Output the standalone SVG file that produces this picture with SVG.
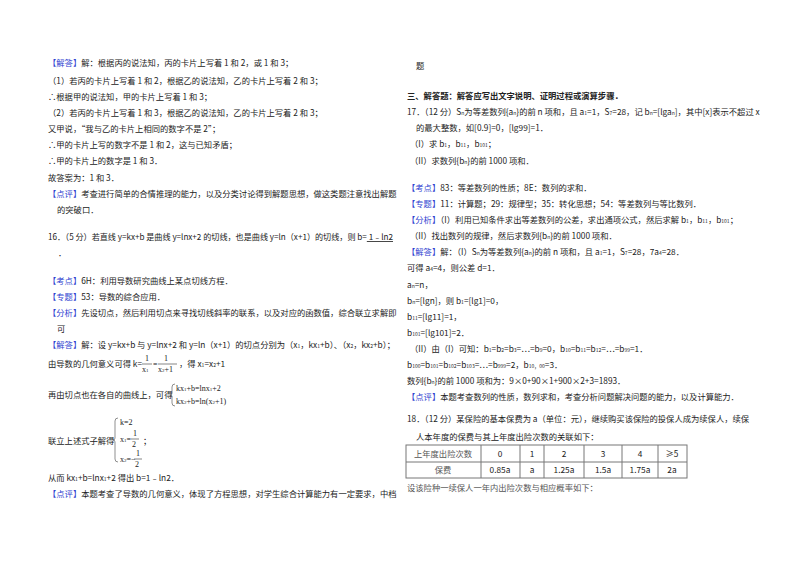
<svg xmlns="http://www.w3.org/2000/svg" width="800" height="565" viewBox="0 0 800 565">
<style>
text{font-family:"Noto Sans CJK SC","Liberation Sans",sans-serif;font-size:8.3px;fill:#222}
.b{fill:#2f3fd0}
.s{font-size:5px}
.h{font-weight:bold}
.m{font-family:"Liberation Serif",serif;font-size:8px}
.t{fill:none;stroke:#777;stroke-width:1}
</style>
<rect width="800" height="565" fill="#fff"/>
<g id="left">
<text x="48" y="66"><tspan class="b">【解答】</tspan>解：根据丙的说法知，丙的卡片上写着 1 和 2，或 1 和 3；</text>
<text x="48" y="84">（1）若丙的卡片上写着 1 和 2，根据乙的说法知，乙的卡片上写着 2 和 3；</text>
<text x="48" y="100">∴根据甲的说法知，甲的卡片上写着 1 和 3；</text>
<text x="48" y="116">（2）若丙的卡片上写着 1 和 3，根据乙的说法知，乙的卡片上写着 2 和 3；</text>
<text x="48" y="132">又甲说，“我与乙的卡片上相同的数字不是 2”；</text>
<text x="48" y="148">∴甲的卡片上写的数字不是 1 和 2，这与已知矛盾；</text>
<text x="48" y="164">∴甲的卡片上的数字是 1 和 3．</text>
<text x="48" y="181">故答案为：1 和 3．</text>
<text x="48" y="197"><tspan class="b">【点评】</tspan>考查进行简单的合情推理的能力，以及分类讨论得到解题思想，做这类题注意找出解题</text>
<text x="57" y="213">的突破口．</text>
<text x="48" y="240" textLength="345" lengthAdjust="spacingAndGlyphs">16．（5 分）若直线 y=kx+b 是曲线 y=lnx+2 的切线，也是曲线 y=ln（x+1）的切线，则 b=<tspan text-decoration="underline">  1﹣ln2</tspan></text>
<text x="58" y="256">．</text>
<text x="48" y="284"><tspan class="b">【考点】</tspan>6H：利用导数研究曲线上某点切线方程．</text>
<text x="48" y="300"><tspan class="b">【专题】</tspan>53：导数的综合应用．</text>
<text x="48" y="316"><tspan class="b">【分析】</tspan>先设切点，然后利用切点来寻找切线斜率的联系，以及对应的函数值，综合联立求解即</text>
<text x="57" y="332">可</text>
<text x="48" y="348"><tspan class="b">【解答】</tspan>解：设 y=kx+b 与 y=lnx+2 和 y=ln（x+1）的切点分别为（x<tspan class="s">1</tspan>，kx<tspan class="s">1</tspan>+b）、（x<tspan class="s">2</tspan>，kx<tspan class="s">2</tspan>+b）；</text>
<text x="48" y="367">由导数的几何意义可得 k=</text>
<text x="145" y="361" class="m">1</text>
<line x1="142" y1="364" x2="152" y2="364" stroke="#333" stroke-width="0.6"/>
<text x="142" y="372" class="m">x<tspan class="s">1</tspan></text>
<text x="153" y="367" class="m">=</text>
<text x="164" y="361" class="m">1</text>
<line x1="158" y1="364" x2="177" y2="364" stroke="#333" stroke-width="0.6"/>
<text x="158" y="372" class="m">x<tspan class="s">2</tspan>+1</text>
<text x="179" y="367">，得 x<tspan class="s">1</tspan>=x<tspan class="s">2</tspan>+1</text>
<text x="48" y="398">再由切点也在各自的曲线上，可得</text>
<path d="M175,384 q-3,0 -3,3 v6 q0,2 -2,2 q2,0 2,2 v6 q0,3 3,3" fill="none" stroke="#444" stroke-width="0.6"/>
<text x="176" y="391" class="m">kx<tspan class="s">1</tspan>+b=lnx<tspan class="s">1</tspan>+2</text>
<text x="176" y="404" class="m">kx<tspan class="s">2</tspan>+b=ln(x<tspan class="s">2</tspan>+1)</text>
<text x="48" y="444">联立上述式子解得</text>
<path d="M118,418 q-3,0 -3,3 v17 q0,2 -2,2 q2,0 2,2 v17 q0,3 3,3" fill="none" stroke="#444" stroke-width="0.6"/>
<text x="120" y="425" class="m">k=2</text>
<text x="120" y="442" class="m">x<tspan class="s">1</tspan>=</text>
<text x="133" y="436" class="m">1</text>
<line x1="131" y1="439" x2="139" y2="439" stroke="#333" stroke-width="0.6"/>
<text x="132" y="447" class="m">2</text>
<text x="143" y="444">；</text>
<text x="120" y="462" class="m">x<tspan class="s">2</tspan>=−</text>
<text x="136" y="456" class="m">1</text>
<line x1="134" y1="459" x2="142" y2="459" stroke="#333" stroke-width="0.6"/>
<text x="135" y="467" class="m">2</text>
<text x="48" y="481">从而 kx<tspan class="s">1</tspan>+b=lnx<tspan class="s">1</tspan>+2 得出 b=1﹣ln2．</text>
<text x="48" y="497"><tspan class="b">【点评】</tspan>本题考查了导数的几何意义，体现了方程思想，对学生综合计算能力有一定要求，中档</text>
</g>
<g id="right">
<text x="416" y="69">题</text>
<text x="407" y="99" class="h">三、解答题：解答应写出文字说明、证明过程或演算步骤．</text>
<text x="407" y="115">17．（12 分）S<tspan class="s">n</tspan>为等差数列{a<tspan class="s">n</tspan>}的前 n 项和，且 a<tspan class="s">1</tspan>=1，S<tspan class="s">7</tspan>=28，记 b<tspan class="s">n</tspan>=[lga<tspan class="s">n</tspan>]，其中[x]表示不超过 x</text>
<text x="416" y="131">的最大整数，如[0.9]=0，[lg99]=1．</text>
<text x="410" y="147">（I）求 b<tspan class="s">1</tspan>，b<tspan class="s">11</tspan>，b<tspan class="s">101</tspan>；</text>
<text x="410" y="164">（II）求数列{b<tspan class="s">n</tspan>}的前 1000 项和．</text>
<text x="407" y="191"><tspan class="b">【考点】</tspan>83：等差数列的性质；8E：数列的求和．</text>
<text x="407" y="207"><tspan class="b">【专题】</tspan>11：计算题；29：规律型；35：转化思想；54：等差数列与等比数列．</text>
<text x="407" y="223"><tspan class="b">【分析】</tspan>（I）利用已知条件求出等差数列的公差，求出通项公式，然后求解 b<tspan class="s">1</tspan>，b<tspan class="s">11</tspan>，b<tspan class="s">101</tspan>；</text>
<text x="410" y="239">（II）找出数列的规律，然后求数列{b<tspan class="s">n</tspan>}的前 1000 项和．</text>
<text x="407" y="255"><tspan class="b">【解答】</tspan>解：（I）S<tspan class="s">n</tspan>为等差数列{a<tspan class="s">n</tspan>}的前 n 项和，且 a<tspan class="s">1</tspan>=1，S<tspan class="s">7</tspan>=28，7a<tspan class="s">4</tspan>=28．</text>
<text x="407" y="271">可得 a<tspan class="s">4</tspan>=4，则公差 d=1．</text>
<text x="407" y="288">a<tspan class="s">n</tspan>=n，</text>
<text x="407" y="304">b<tspan class="s">n</tspan>=[lgn]，则 b<tspan class="s">1</tspan>=[lg1]=0，</text>
<text x="407" y="320">b<tspan class="s">11</tspan>=[lg11]=1，</text>
<text x="407" y="336">b<tspan class="s">101</tspan>=[lg101]=2．</text>
<text x="410" y="352">（II）由（I）可知：b<tspan class="s">1</tspan>=b<tspan class="s">2</tspan>=b<tspan class="s">3</tspan>=…=b<tspan class="s">9</tspan>=0，b<tspan class="s">10</tspan>=b<tspan class="s">11</tspan>=b<tspan class="s">12</tspan>=…=b<tspan class="s">99</tspan>=1．</text>
<text x="407" y="368">b<tspan class="s">100</tspan>=b<tspan class="s">101</tspan>=b<tspan class="s">102</tspan>=b<tspan class="s">103</tspan>=…=b<tspan class="s">999</tspan>=2，b<tspan class="s">10，00</tspan>=3．</text>
<text x="407" y="384">数列{b<tspan class="s">n</tspan>}的前 1000 项和为：9×0+90×1+900×2+3=1893．</text>
<text x="407" y="400"><tspan class="b">【点评】</tspan>本题考查数列的性质，数列求和，考查分析问题解决问题的能力，以及计算能力．</text>
<text x="407" y="422">18．（12 分）某保险的基本保费为 a（单位：元），继续购买该保险的投保人成为续保人，续保</text>
<text x="416" y="440">人本年度的保费与其上年度出险次数的关联如下：</text>
</g>
<g id="table">
<rect class="t" x="406" y="445" width="281" height="33"/>
<line class="t" x1="406" y1="462" x2="687" y2="462"/>
<line class="t" x1="481" y1="445" x2="481" y2="478"/>
<line class="t" x1="520" y1="445" x2="520" y2="478"/>
<line class="t" x1="544" y1="445" x2="544" y2="478"/>
<line class="t" x1="584" y1="445" x2="584" y2="478"/>
<line class="t" x1="622" y1="445" x2="622" y2="478"/>
<line class="t" x1="658" y1="445" x2="658" y2="478"/>
<g text-anchor="middle">
<text x="443" y="457" style="fill:#555">上年度出险次数</text>
<text x="500" y="457">0</text><text x="532" y="457">1</text><text x="564" y="457">2</text><text x="603" y="457">3</text><text x="640" y="457">4</text><text x="672" y="457">≥5</text>
<text x="443" y="473" style="fill:#555">保费</text>
<text x="500" y="473">0.85a</text><text x="532" y="473">a</text><text x="564" y="473">1.25a</text><text x="603" y="473">1.5a</text><text x="640" y="473">1.75a</text><text x="672" y="473">2a</text>
</g>
<text x="407" y="491" style="fill:#555">设该险种一续保人一年内出险次数与相应概率如下：</text>
</g>
</svg>
